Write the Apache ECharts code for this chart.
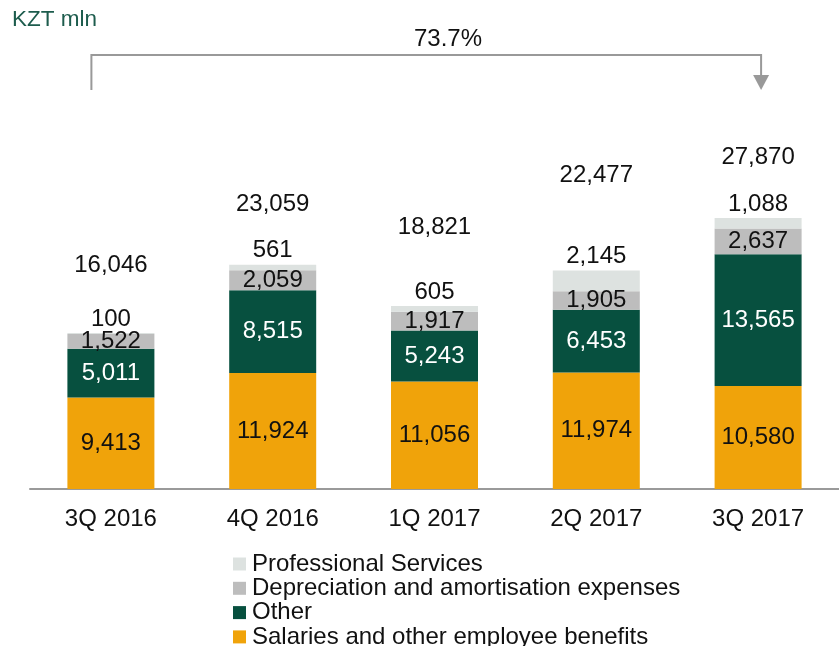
<!DOCTYPE html>
<html>
<head>
<meta charset="utf-8">
<script src="https://cdn.jsdelivr.net/npm/echarts@6/dist/echarts.min.js"></script>
<style>
    html, body { margin: 0; padding: 0; background: #fff; }
    #main { width: 839px; height: 646px; }
</style>
</head>
<body>
<div id="main"></div>
<script>
var quarters = ['3Q 2016', '4Q 2016', '1Q 2017', '2Q 2017', '3Q 2017'];
var salaries = [9413, 11924, 11056, 11974, 10580];
var other = [5011, 8515, 5243, 6453, 13565];
var depreciation = [1522, 2059, 1917, 1905, 2637];
var professional = [100, 561, 605, 2145, 1088];
var totals = [16046, 23059, 18821, 22477, 27870];
var growthLabel = '73.7%';

(function () {
    var chart = echarts.init(document.getElementById('main'));
    var font = 'Liberation Sans, Arial, sans-serif';
    // how far each total sits above its bar (px)
    var totalLift = [51, 43, 62, 78, 44];

    function fmt(p) { return p.value.toLocaleString('en-US'); }

    function segLabel(color) {
        return {
            show: true,
            position: 'inside',
            color: color,
            fontSize: 24,
            fontFamily: font,
            formatter: fmt
        };
    }

    var option = {
        animation: false,
        title: {
            text: 'KZT mln',
            left: 12,
            top: 8,
            padding: 0,
            textStyle: { color: '#1d5c4d', fontSize: 22.5, fontWeight: 'normal', fontFamily: font }
        },
        legend: {
            orient: 'vertical',
            left: 233,
            top: 552,
            height: 110,
            padding: 0,
            icon: 'rect',
            itemWidth: 13,
            itemHeight: 13,
            itemGap: 0.3,
            data: ['Professional Services', 'Depreciation and amortisation expenses', 'Other', 'Salaries and other employee benefits'],
            textStyle: { fontSize: 24, lineHeight: 24, color: '#111', fontFamily: font, padding: [0, 0, 0, 1] }
        },
        grid: {
            left: 30,
            right: -7,
            top: 100,
            bottom: 157
        },
        xAxis: {
            type: 'category',
            data: quarters,
            axisTick: { show: false },
            axisLine: { lineStyle: { color: '#9a9a9a', width: 2 } },
            axisLabel: { color: '#111', fontSize: 24, margin: 18, fontFamily: font }
        },
        yAxis: {
            type: 'value',
            min: 0,
            max: 40000,
            show: false,
            splitLine: { show: false }
        },
        series: [
            {
                name: 'Salaries and other employee benefits',
                type: 'bar',
                stack: 'cost',
                barWidth: 87,
                data: salaries,
                itemStyle: { color: '#f0a30a' },
                label: segLabel('#111')
            },
            {
                name: 'Other',
                type: 'bar',
                stack: 'cost',
                data: other,
                itemStyle: { color: '#07503f' },
                label: segLabel('#fff')
            },
            {
                name: 'Depreciation and amortisation expenses',
                type: 'bar',
                stack: 'cost',
                data: depreciation,
                itemStyle: { color: '#bdbdbd' },
                label: segLabel('#111')
            },
            {
                name: 'Professional Services',
                type: 'bar',
                stack: 'cost',
                data: professional,
                itemStyle: { color: '#dde2e0' },
                label: {
                    show: true,
                    position: 'top',
                    distance: 2,
                    color: '#111',
                    fontSize: 24,
                    fontFamily: font,
                    formatter: fmt
                }
            },
            {
                name: 'Total',
                type: 'scatter',
                symbolSize: 0,
                itemStyle: { opacity: 1 },
                data: totals.map(function (v, i) {
                    return {
                        value: v,
                        label: { offset: [0, -totalLift[i]] }
                    };
                }),
                label: {
                    show: true,
                    position: 'top',
                    distance: 5,
                    color: '#111',
                    fontSize: 24,
                    fontFamily: font,
                    formatter: fmt
                }
            }
        ]
    };
    chart.setOption(option);

    // growth bracket from first to last quarter
    var x0 = chart.convertToPixel({ xAxisIndex: 0 }, quarters[0]) - 19.5;
    var x1 = chart.convertToPixel({ xAxisIndex: 0 }, quarters[quarters.length - 1]) + 3;
    chart.setOption({
        graphic: [
            {
                type: 'polyline',
                shape: { points: [[x0, 90], [x0, 55], [x1, 55], [x1, 76]] },
                style: { stroke: '#999', lineWidth: 2, fill: null }
            },
            {
                type: 'polygon',
                shape: { points: [[x1 - 8, 75], [x1 + 8, 75], [x1, 90]] },
                style: { fill: '#999' }
            },
            {
                type: 'text',
                x: 448,
                y: 39,
                style: {
                    text: growthLabel,
                    fill: '#111',
                    fontSize: 24,
                    fontFamily: font,
                    align: 'center',
                    verticalAlign: 'middle'
                }
            }
        ]
    });
})();
</script>
</body>
</html>
